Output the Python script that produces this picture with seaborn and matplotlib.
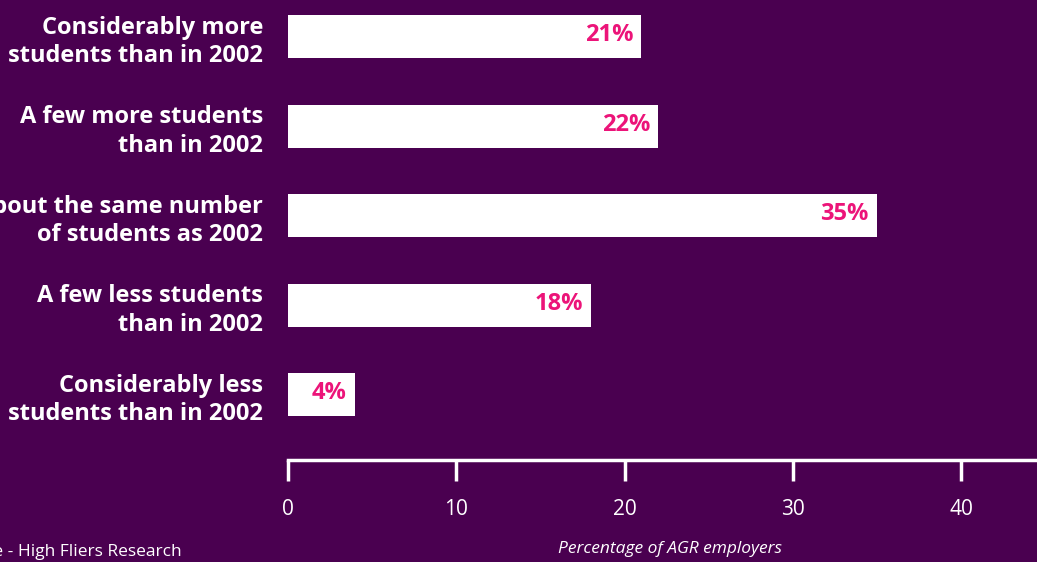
import matplotlib
matplotlib.use("Agg")
import matplotlib.pyplot as plt
import seaborn as sns
import pandas as pd

# Survey responses: change in graduate recruitment numbers vs 2002
categories = [
    "Considerably more\nstudents than in 2002",
    "A few more students\nthan in 2002",
    "About the same number\nof students as 2002",
    "A few less students\nthan in 2002",
    "Considerably less\nstudents than in 2002",
]
percentages = [21, 22, 35, 18, 4]
tick_values = [0, 10, 20, 30, 40]

BG = "#4A0050"
PINK = "#EC1479"
WHITE = "#FFFFFF"

sns.set_theme(style="white")
plt.rcParams["font.family"] = ["Open Sans", "DejaVu Sans"]

df = pd.DataFrame({"category": categories, "pct": percentages})

fig = plt.figure(figsize=(10.37, 5.62), dpi=100, facecolor=BG)
ax = fig.add_axes([288 / 1037, 102 / 562, 1 - 288 / 1037, 460 / 562])
ax.set_facecolor(BG)

sns.barplot(data=df, x="pct", y="category", color=WHITE, saturation=1,
            width=0.48, orient="h", ax=ax, edgecolor="none")

ax.set_xlim(0, 44.5)
ax.set_ylim(4.73, -0.41)

# value labels inside bar ends
for i, v in enumerate(percentages):
    ax.annotate(f"{v}%", xy=(v, i), xytext=(-6, 1), textcoords="offset points",
                ha="right", va="center", color=PINK, fontsize=17,
                fontweight="bold")

# axes styling
for side in ["top", "right", "left"]:
    ax.spines[side].set_visible(False)
ax.spines["bottom"].set_color(WHITE)
ax.spines["bottom"].set_linewidth(2.5)

ax.set_xticks(tick_values)
ax.set_xticklabels([str(t) for t in tick_values])
ax.tick_params(axis="x", direction="out", length=15, width=2.5, color=WHITE,
               labelcolor=WHITE, labelsize=15, pad=13, bottom=True)
ax.tick_params(axis="y", length=0, pad=18, labelcolor=WHITE, labelsize=17)
for lbl in ax.get_yticklabels():
    lbl.set_fontweight("bold")
    lbl.set_linespacing(1.25)

ax.set_ylabel("")
ax.set_xlabel("")
fig.text(670 / 1037, 1 - 549 / 562, "Percentage of AGR employers",
         ha="center", va="center", color=WHITE, fontsize=12.5, fontstyle="italic")
fig.text(182 / 1037, 1 - 552 / 562, "Source - High Fliers Research",
         ha="right", va="center", color=WHITE, fontsize=12.5)

fig.savefig("out.png", dpi=100, facecolor=BG)
